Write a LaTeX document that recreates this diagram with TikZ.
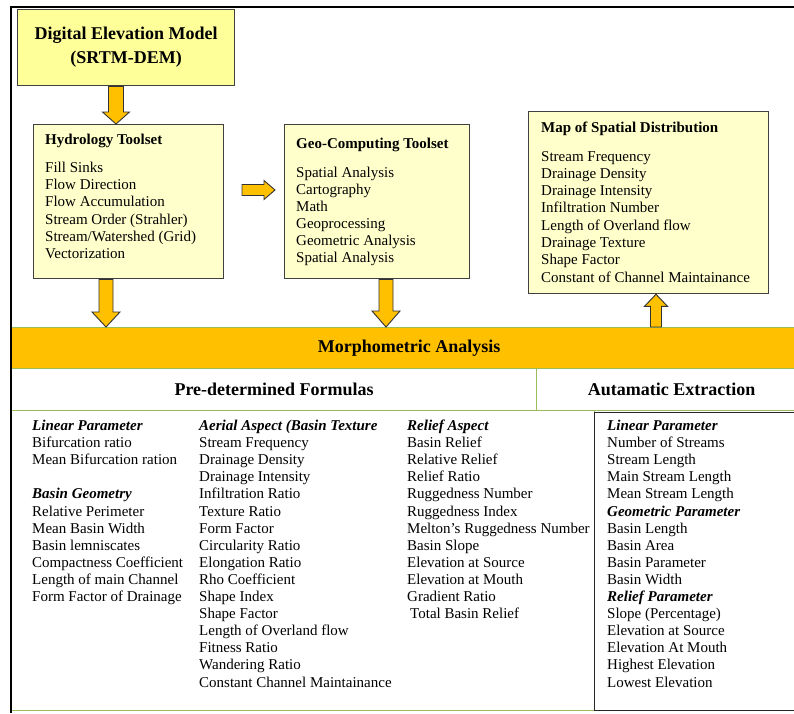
\documentclass[tikz,border=0pt]{standalone}
\usepackage{fontspec}
\setmainfont{Liberation Serif}
\usetikzlibrary{calc}
\definecolor{morange}{HTML}{FFC000}
\definecolor{mgreen}{HTML}{9BBB59}
\definecolor{boxfill}{HTML}{FFFFCC}
\definecolor{demfill}{HTML}{FFFF99}
\definecolor{boxline}{HTML}{404040}
\newcommand\downblock[5]{%
  \draw[barrow] let \p1=(#1), \p2=(#2) in
    ({\x1-#3},\y1) -- ({\x1+#3},\y1) -- ({\x1+#3},{\y2+#5}) -- ({\x1+#4},{\y2+#5})
    -- (\x1,\y2) -- ({\x1-#4},{\y2+#5}) -- ({\x1-#3},{\y2+#5}) -- cycle;}
\newcommand\upblock[5]{%
  \draw[barrow] let \p1=(#1), \p2=(#2) in
    ({\x1-#3},\y1) -- ({\x1+#3},\y1) -- ({\x1+#3},{\y2-#5}) -- ({\x1+#4},{\y2-#5})
    -- (\x1,\y2) -- ({\x1-#4},{\y2-#5}) -- ({\x1-#3},{\y2-#5}) -- cycle;}
\newcommand\rightblock[5]{%
  \draw[barrow] let \p1=(#1), \p2=(#2) in
    (\x1,{\y1+#3}) -- ({\x2-#5},{\y1+#3}) -- ({\x2-#5},{\y1+#4}) -- (\x2,\y1)
    -- ({\x2-#5},{\y1-#4}) -- ({\x2-#5},{\y1-#3}) -- (\x1,{\y1-#3}) -- cycle;}
\begin{document}
\begin{tikzpicture}[x=1pt,y=-1pt,
  box/.style={draw=boxline, line width=1.3pt, fill=boxfill, inner sep=0pt, anchor=north west},
  barrow/.style={draw=black!80, line width=0.9pt, fill=morange, line join=miter},
  item/.style={anchor=base west, inner sep=0pt, font=\fontsize{15}{17}\selectfont},
  bhead/.style={anchor=base west, inner sep=0pt, font=\fontsize{15}{17}\selectfont\bfseries},
  ihead/.style={anchor=base west, inner sep=0pt, font=\fontsize{15}{17}\selectfont\bfseries\itshape},
  band/.style={draw=mgreen, line width=1.2pt, inner sep=0pt, anchor=north west,
    font=\fontsize{18}{20}\selectfont\bfseries}]
\useasboundingbox (0,0) rectangle (794,713);
\fill[white] (0,0) rectangle (794,713);

% top boxes
\node[box, fill=demfill, minimum width=217, minimum height=76, align=center,
  font=\fontsize{18}{24}\selectfont\bfseries] (dem) at (17,9)
  {Digital Elevation Model\\(SRTM-DEM)};
\node[box, minimum width=190, minimum height=154] (hyd) at (33,124) {};
\node[box, minimum width=185, minimum height=154] (geo) at (284,124) {};
\node[box, minimum width=240, minimum height=182] (map) at (528,111) {};

% box texts
\node[bhead] (hydt) at (45,144) {Hydrology Toolset};
\foreach \t [count=\i from 0] in {Fill Sinks, Flow Direction, Flow Accumulation,
  Stream Order (Strahler), Stream/Watershed (Grid), Vectorization}
  \node[item] (hyd\i) at (45,{172.5+17.2*\i}) {\t};
\node[bhead] (geot) at (296,148) {Geo-Computing Toolset};
\foreach \t [count=\i from 0] in {Spatial Analysis, Cartography, Math, Geoprocessing,
  Geometric Analysis, Spatial Analysis}
  \node[item] (geo\i) at (296,{177+17.1*\i}) {\t};
\node[bhead] (mapt) at (541,132) {Map of Spatial Distribution};
\foreach \t [count=\i from 0] in {Stream Frequency, Drainage Density, Drainage Intensity,
  Infiltration Number, Length of Overland flow, Drainage Texture, Shape Factor,
  Constant of Channel Maintainance}
  \node[item] (map\i) at (541,{161+17.29*\i}) {\t};

% bands
\node[band, fill=morange, minimum width=795, minimum height=41] (morph) at (11,327)
  {Morphometric Analysis};
\node[band, fill=white, minimum width=525, minimum height=42] (pre) at (11,368)
  {Pre-determined Formulas};
\node[band, fill=white, minimum width=270, minimum height=42] (aut) at (536,368)
  {Autamatic Extraction};

% lower area
\node[draw=mgreen, line width=1.2pt, fill=white, anchor=north west, inner sep=0pt,
  minimum width=583, minimum height=300] (formulas) at (11,410) {};
\node[draw=black!85, line width=1.3pt, fill=white, anchor=north west, inner sep=0pt,
  minimum width=215, minimum height=298] (autobox) at (594,411.5) {};

% column 1
\foreach \i/\t/\s in {0/Linear Parameter/ihead, 1/Bifurcation ratio/item,
  2/Mean Bifurcation ration/item, 4/Basin Geometry/ihead, 5/Relative Perimeter/item,
  6/Mean Basin Width/item, 7/Basin lemniscates/item, 8/Compactness Coefficient/item,
  9/Length of main Channel/item, 10/Form Factor of Drainage/item}
  \node[\s] (a\i) at (32,{430.5+17.1*\i}) {\t};
% column 2
\foreach \i/\t/\s in {0/Aerial Aspect (Basin Texture/ihead, 1/Stream Frequency/item,
  2/Drainage Density/item, 3/Drainage Intensity/item, 4/Infiltration Ratio/item,
  5/Texture Ratio/item, 6/Form Factor/item, 7/Circularity Ratio/item,
  8/Elongation Ratio/item, 9/Rho Coefficient/item, 10/Shape Index/item,
  11/Shape Factor/item, 12/Length of Overland flow/item, 13/Fitness Ratio/item,
  14/Wandering Ratio/item, 15/Constant Channel Maintainance/item}
  \node[\s] (b\i) at (199,{430.5+17.1*\i}) {\t};
% column 3
\foreach \i/\t/\s in {0/Relief Aspect/ihead, 1/Basin Relief/item, 2/Relative Relief/item,
  3/Relief Ratio/item, 4/Ruggedness Number/item, 5/Ruggedness Index/item,
  6/Melton’s Ruggedness Number/item, 7/Basin Slope/item, 8/Elevation at Source/item,
  9/Elevation at Mouth/item, 10/Gradient Ratio/item}
  \node[\s] (c\i) at (407,{430.5+17.1*\i}) {\t};
\node[item] (c11) at (410,{430.5+17.1*11}) {Total Basin Relief};
% column 4
\foreach \i/\t/\s in {0/Linear Parameter/ihead, 1/Number of Streams/item,
  2/Stream Length/item, 3/Main Stream Length/item, 4/Mean Stream Length/item,
  5/Geometric Parameter/ihead, 6/Basin Length/item, 7/Basin Area/item,
  8/Basin Parameter/item, 9/Basin Width/item, 10/Relief Parameter/ihead,
  11/Slope (Percentage)/item, 12/Elevation at Source/item, 13/Elevation At Mouth/item,
  14/Highest Elevation/item, 15/Lowest Elevation/item}
  \node[\s] (d\i) at (607,{430.5+17.1*\i}) {\t};

% arrows
\coordinate (x1) at (116,0);
\coordinate (x2) at (106,0);
\coordinate (x3) at (386,0);
\coordinate (x5) at (656,0);
\coordinate (a1s) at (x1 |- dem.south);
\coordinate (a1e) at (x1 |- hyd.north);
\coordinate (a2s) at (x2 |- hyd.south);
\coordinate (a2e) at (x2 |- morph.north);
\coordinate (a3s) at (x3 |- geo.south);
\coordinate (a3e) at (x3 |- morph.north);
\coordinate (a5s) at (x5 |- morph.north);
\coordinate (a5e) at (x5 |- map.south);
\coordinate (a4s) at (242,190);
\coordinate (a4e) at (275,190);
\downblock{a1s}{a1e}{7.5pt}{13.5pt}{12pt}
\downblock{a2s}{a2e}{7pt}{14pt}{15pt}
\downblock{a3s}{a3e}{7pt}{14pt}{16pt}
\upblock{a5s}{a5e}{5.5pt}{11.5pt}{12pt}
\rightblock{a4s}{a4e}{5.5pt}{9.5pt}{11pt}

% outer frame
\draw[black, line width=2.5pt] (11,713) -- (11,7) -- (800,7);
\end{tikzpicture}
\end{document}
